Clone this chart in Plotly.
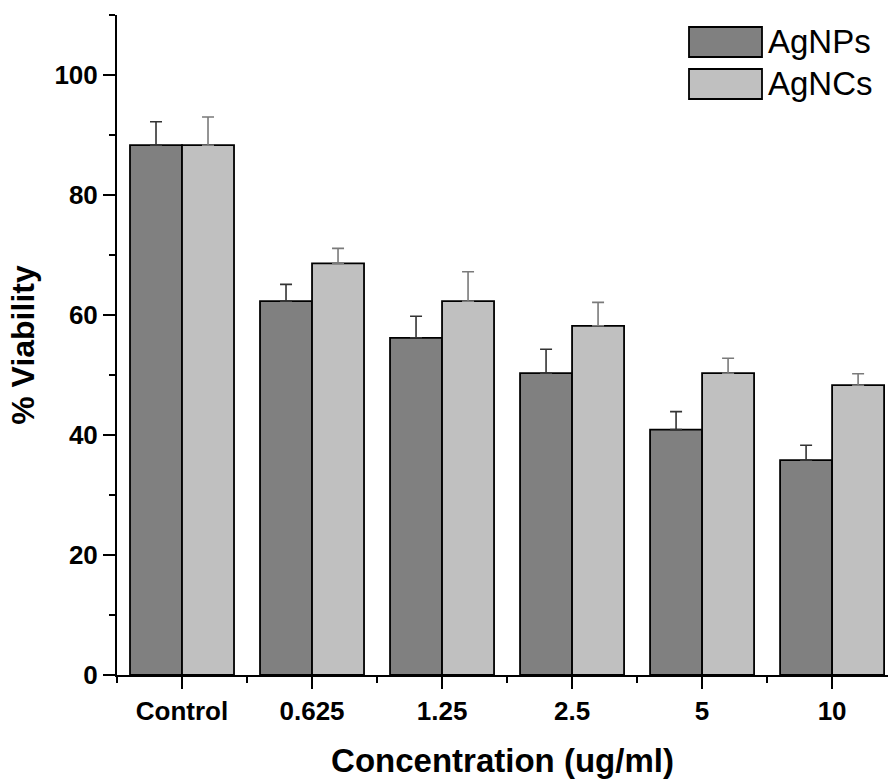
import plotly.graph_objects as go

categories = ["Control", "0.625", "1.25", "2.5", "5", "10"]
agnps = [88.3, 62.3, 56.2, 50.3, 40.9, 35.8]
agnps_err = [3.9, 2.8, 3.6, 4.0, 3.0, 2.5]
agncs = [88.3, 68.6, 62.3, 58.2, 50.3, 48.3]
agncs_err = [4.7, 2.5, 4.9, 3.9, 2.5, 1.9]
y_ticks = [0, 20, 40, 60, 80, 100]

c_np = "#808080"
c_nc = "#c0c0c0"
font_family = "Liberation Sans, Arial, sans-serif"

xpos = list(range(len(categories)))

fig = go.Figure()
fig.add_trace(go.Bar(
    x=xpos, y=agnps, name="AgNPs",
    marker=dict(color=c_np, line=dict(color="black", width=1.8)),
    error_y=dict(type="data", symmetric=False, array=agnps_err,
                 arrayminus=[0] * len(agnps_err), color="#333333",
                 thickness=1.6, width=6),
    showlegend=False,
))
fig.add_trace(go.Bar(
    x=xpos, y=agncs, name="AgNCs",
    marker=dict(color=c_nc, line=dict(color="black", width=1.8)),
    error_y=dict(type="data", symmetric=False, array=agncs_err,
                 arrayminus=[0] * len(agncs_err), color="#7a7a7a",
                 thickness=1.6, width=6),
    showlegend=False,
))

fig.update_layout(
    width=888, height=781,
    margin=dict(l=117, r=0, t=15, b=106),
    plot_bgcolor="white", paper_bgcolor="white",
    barmode="group", bargap=0.2, bargroupgap=0,
    font=dict(family=font_family, color="black"),
)

fig.update_xaxes(
    range=[-0.5, 5.43],
    tickmode="array", tickvals=xpos, ticktext=categories,
    ticks="outside", ticklen=12, tickwidth=2, tickcolor="black",
    tickfont=dict(size=26, weight="bold", family=font_family),
    showline=True, linewidth=2, linecolor="black",
    showgrid=False, zeroline=False,
    minor=dict(tickmode="linear", tick0=-0.5, dtick=1, ticks="outside",
               ticklen=6, tickwidth=2, tickcolor="black", showgrid=False),
    title=dict(text="Concentration (ug/ml)", standoff=24,
               font=dict(size=33, weight="bold", family=font_family)),
)
fig.update_yaxes(
    range=[0, 110],
    tickmode="array", tickvals=y_ticks,
    ticks="outside", ticklen=12, tickwidth=2, tickcolor="black",
    tickfont=dict(size=26, weight="bold", family=font_family),
    showline=True, linewidth=2, linecolor="black",
    showgrid=False, zeroline=False,
    minor=dict(tickmode="linear", tick0=0, dtick=10, ticks="outside",
               ticklen=6, tickwidth=2, tickcolor="black", showgrid=False),
    title=dict(text="% Viability", standoff=10,
               font=dict(size=32, weight="bold", family=font_family)),
)

# Custom legend (large swatches as in the reference)
legend_items = [("AgNPs", c_np), ("AgNCs", c_nc)]
for i, (name, col) in enumerate(legend_items):
    y0 = 1 - (12 + 42 * i) / 660.0
    y1 = y0 - 30 / 660.0
    fig.add_shape(type="rect", xref="paper", yref="paper",
                  x0=(689 - 117) / 771.0, x1=(762 - 117) / 771.0,
                  y0=y1, y1=y0, fillcolor=col,
                  line=dict(color="black", width=1.8))
    fig.add_annotation(xref="paper", yref="paper",
                       x=(766 - 117) / 771.0, y=(y0 + y1) / 2,
                       text=name, showarrow=False, xanchor="left", yanchor="middle",
                       font=dict(size=33, family=font_family, color="black"))

fig.write_html("out.html")
